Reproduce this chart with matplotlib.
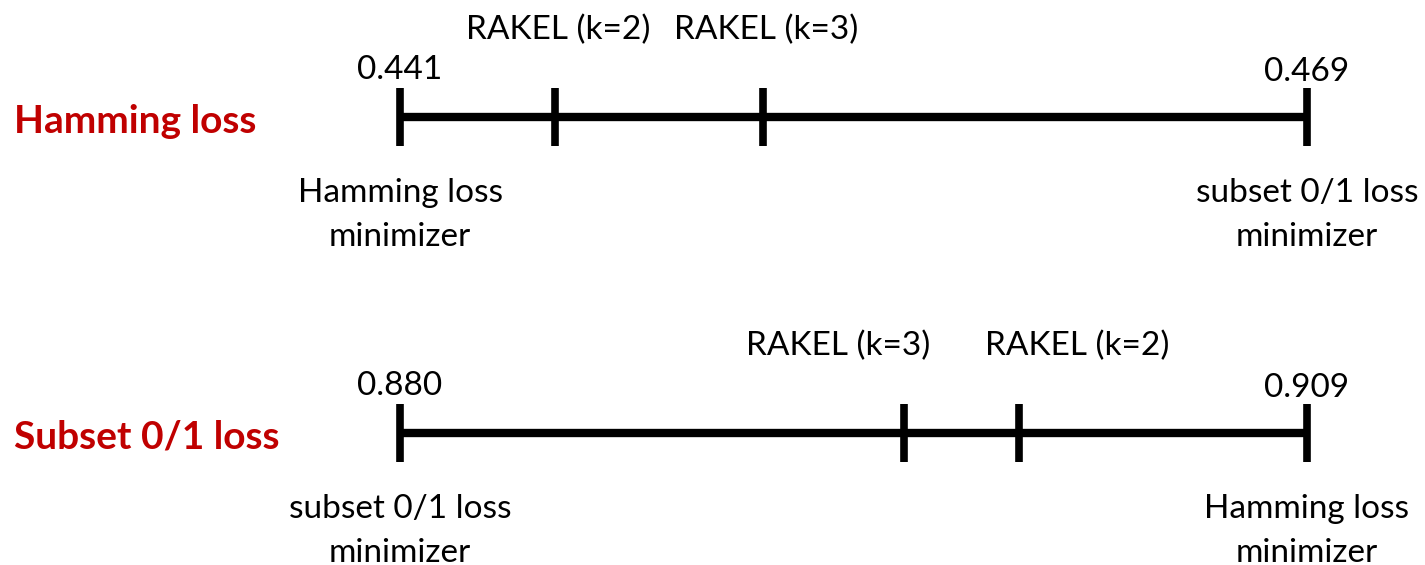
import matplotlib
matplotlib.use("Agg")
from matplotlib import pyplot as plt

plt.rcParams['font.family'] = ['Lato', 'DejaVu Sans']

# rows: metric, range ends, end labels, RAKEL results
metrics = ["Hamming loss", "Subset 0/1 loss"]
lows = [0.441, 0.880]
highs = [0.469, 0.909]
low_names = ["Hamming loss\nminimizer", "subset 0/1 loss\nminimizer"]
high_names = ["subset 0/1 loss\nminimizer", "Hamming loss\nminimizer"]
rakel_names = [["RAKEL (k=2)", "RAKEL (k=3)"], ["RAKEL (k=3)", "RAKEL (k=2)"]]
rakel_vals = [[0.4458, 0.4522], [0.8961, 0.8998]]

W, H = 1425, 565
fig = plt.figure(figsize=(W / 100, H / 100), dpi=100)

line_y = [117, 433]       # layout rows in pixel units (top-down)
rakel_shift = [[3, 3], [-65, 58]]
fs = 24
red = "#C00000"

for i in range(2):
    ax = fig.add_axes([400 / W, 0, 907 / W, 1])
    ax.set_xlim(lows[i], highs[i])
    ax.set_ylim(H, 0)
    ax.axis("off")
    y = line_y[i]
    ax.hlines(y, lows[i], highs[i], color="black", lw=6, clip_on=False)
    ticks = [lows[i]] + rakel_vals[i] + [highs[i]]
    ax.vlines(ticks, y - 29, y + 29, color="black", lw=5.5, clip_on=False)

    ax.text(lows[i], y - 47, f"{lows[i]:.3f}", ha="center", va="center", fontsize=fs)
    ax.text(highs[i], y - 45, f"{highs[i]:.3f}", ha="center", va="center", fontsize=fs)
    for name, v, dx in zip(rakel_names[i], rakel_vals[i], rakel_shift[i]):
        ax.annotate(name, (v, y - 87), xytext=(dx, 0), textcoords="offset pixels",
                    ha="center", va="center", fontsize=fs)
    ax.text(lows[i], y + 98, low_names[i], ha="center", va="center", fontsize=fs,
            linespacing=1.55)
    ax.text(highs[i], y + 98, high_names[i], ha="center", va="center", fontsize=fs,
            linespacing=1.55)

    fig.text(14 / W, 1 - (y + 4) / H, metrics[i], color=red, fontweight="bold",
             fontsize=28, ha="left", va="center")

fig.savefig("out.png", dpi=100)
